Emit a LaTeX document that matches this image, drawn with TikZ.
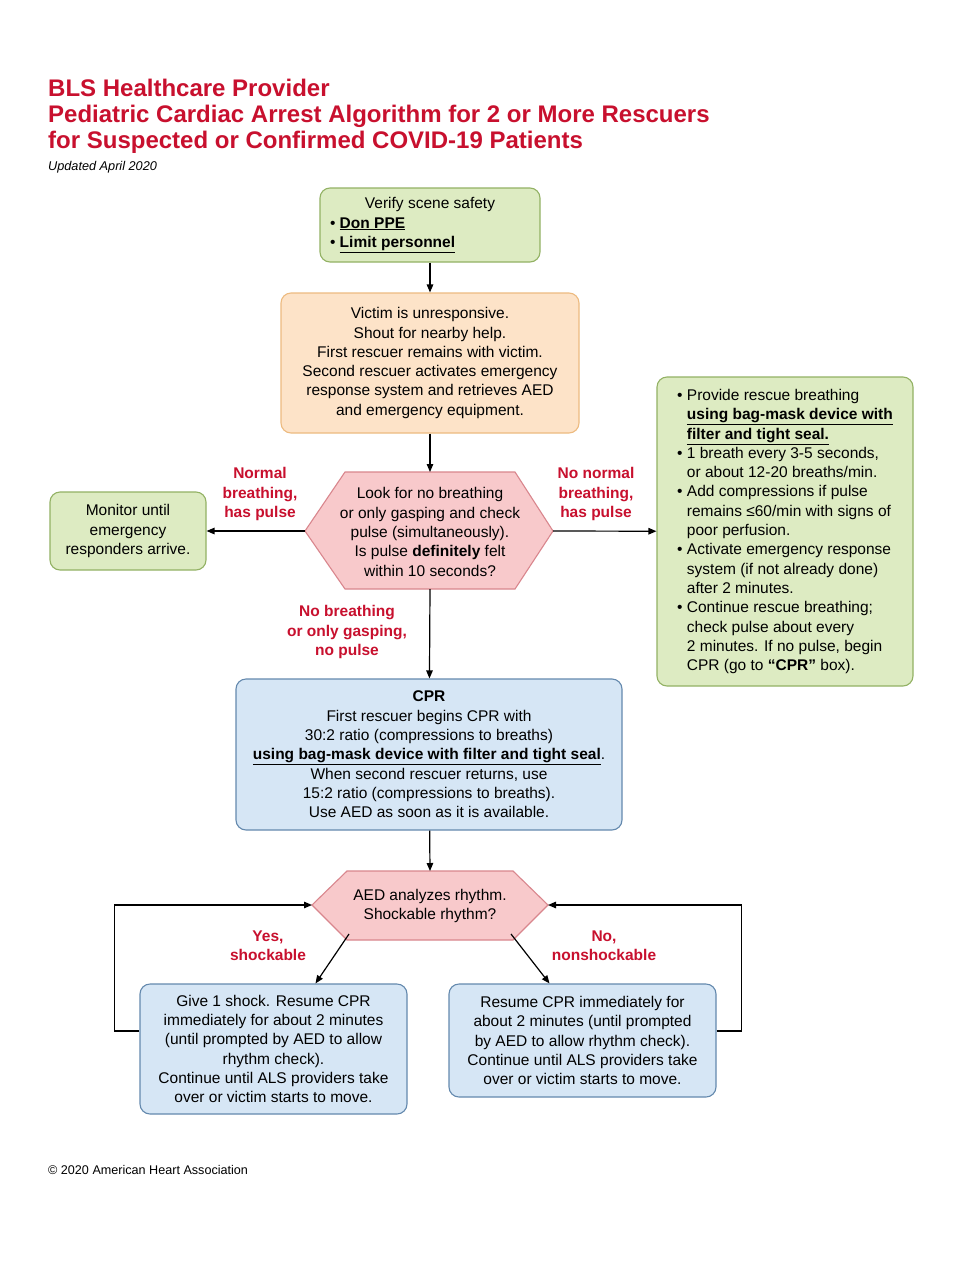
\documentclass[tikz,border=0pt]{standalone}
\usepackage{fontspec}
\setmainfont{Liberation Sans}
\newfontfamily\titlefont{Liberation Sans}
\usetikzlibrary{arrows.meta}
\definecolor{ttred}{HTML}{C8102E}
\definecolor{gfill}{HTML}{DDEBC2}
\definecolor{gline}{HTML}{93B264}
\definecolor{ofill}{HTML}{FDE3C8}
\definecolor{oline}{HTML}{EDBB80}
\definecolor{pfill}{HTML}{F8C9CB}
\definecolor{pline}{HTML}{D9868D}
\definecolor{bfill}{HTML}{D6E6F5}
\definecolor{bline}{HTML}{6489AE}
\newcommand{\bxfont}{\fontsize{15.5}{19.3}\selectfont}
\newcommand{\ind}{\hphantom{• }}
\begin{document}
\begin{tikzpicture}[x=1pt,y=-1pt,
  box/.style={draw, rounded corners=10pt, line width=1.1pt, align=center, font=\bxfont, inner sep=0pt},
  gbox/.style={box, draw=gline, fill=gfill},
  obox/.style={box, draw=oline, fill=ofill},
  bbox/.style={box, draw=bline, fill=bfill},
  hexa/.style={draw=pline, fill=pfill, line width=1.1pt, line join=miter},
  htext/.style={align=center, font=\bxfont, inner sep=0pt},
  lbl/.style={text=ttred, font=\bxfont\bfseries, align=center, inner sep=0pt},
  arr/.style={-{Triangle[length=8pt,width=6.5pt]}, line width=1.2pt},
  ttl/.style={anchor=base west, text=ttred, font=\titlefont\fontsize{24}{26}\selectfont\bfseries, inner sep=0pt}
]
\useasboundingbox[fill=white] (0,0) rectangle (966,1280);

% title
\node[ttl] (t1) at (48,96) {BLS Healthcare Provider};
\node[ttl] (t2) at (48,122) {Pediatric Cardiac Arrest Algorithm for 2 or More Rescuers};
\node[ttl] (t3) at (48,148) {for Suspected or Confirmed COVID-19 Patients};
\node[anchor=base west, inner sep=0pt, font=\fontsize{12.7}{13}\selectfont\itshape] (upd) at (48,170) {Updated April 2020};

% boxes
\node[gbox, minimum width=220pt, minimum height=74pt] (safety) at (430,225)
  {Verify scene safety\\
   \makebox[200pt][l]{• \underline{\textbf{Don PPE}}}\\
   \makebox[200pt][l]{• \underline{\textbf{Limit personnel}}}};

\node[obox, minimum width=298pt, minimum height=140pt] (victim) at (430,363)
  {Victim is unresponsive.\\Shout for nearby help.\\First rescuer remains with victim.\\Second rescuer activates emergency\\response system and retrieves AED\\and emergency equipment.};

% hexagon 1
\coordinate (h1L) at (305,531);
\coordinate (h1R) at (553,531);
\coordinate (h1T) at (430,472);
\coordinate (h1B) at (430,589);
\draw[hexa] (h1L) -- (345,472) -- (515,472) -- (h1R) -- (515,589) -- (345,589) -- cycle;
\node[htext] (look) at (430,532)
  {Look for no breathing\\or only gasping and check\\pulse (simultaneously).\\Is pulse \textbf{definitely} felt\\within 10 seconds?};

\node[gbox, minimum width=156pt, minimum height=78pt] (monitor) at (128,531)
  {Monitor until\\emergency\\responders arrive.};

\node[gbox, minimum width=256pt, minimum height=309pt, align=left] (rescue) at (785,531.5)
  {• Provide rescue breathing\\
   \ind\underline{\textbf{using bag-mask device with}}\\
   \ind\underline{\textbf{filter and tight seal.}}\\
   • 1 breath every 3-5 seconds,\\
   \ind or about 12-20 breaths/min.\\
   • Add compressions if pulse\\
   \ind remains ≤60/min with signs of\\
   \ind poor perfusion.\\
   • Activate emergency response\\
   \ind system (if not already done)\\
   \ind after 2 minutes.\\
   • Continue rescue breathing;\\
   \ind check pulse about every\\
   \ind 2 minutes. If no pulse, begin\\
   \ind CPR (go to \textbf{“CPR”} box).};

\node[bbox, minimum width=386pt, minimum height=151pt] (cpr) at (429,754.5)
  {\textbf{CPR}\\First rescuer begins CPR with\\30:2 ratio (compressions to breaths)\\\underline{\textbf{using bag-mask device with filter and tight seal}}.\\When second rescuer returns, use\\15:2 ratio (compressions to breaths).\\Use AED as soon as it is available.};

% hexagon 2
\coordinate (h2L) at (312,905);
\coordinate (h2R) at (548,905);
\coordinate (h2T) at (430,871);
\coordinate (h2BL) at (349,934);
\coordinate (h2BR) at (511,934);
\draw[hexa] (h2L) -- (347,871) -- (513,871) -- (h2R) -- (513,940) -- (347,940) -- cycle;
\node[htext] (aed) at (430,906) {AED analyzes rhythm.\\Shockable rhythm?};

\node[bbox, minimum width=267pt, minimum height=130pt] (shock) at (273.5,1049)
  {Give 1 shock. Resume CPR\\immediately for about 2 minutes\\(until prompted by AED to allow\\rhythm check).\\Continue until ALS providers take\\over or victim starts to move.};

\node[bbox, minimum width=267pt, minimum height=113pt] (resume) at (582.5,1040.5)
  {Resume CPR immediately for\\about 2 minutes (until prompted\\by AED to allow rhythm check).\\Continue until ALS providers take\\over or victim starts to move.};

% labels
\node[lbl] (l1) at (260,494) {Normal\\breathing,\\has pulse};
\node[lbl] (l2) at (596,494) {No normal\\breathing,\\has pulse};
\node[lbl] (l3) at (347,632) {No breathing\\or only gasping,\\no pulse};
\node[lbl] (l4) at (268,946) {Yes,\\shockable};
\node[lbl] (l5) at (604,946) {No,\\nonshockable};

% connectors
\draw[arr] (safety) -- (victim);
\draw[arr] (victim) -- (h1T);
\draw[arr] (h1L) -- (monitor);
\draw[arr] (h1R) -- (rescue);
\draw[arr] (h1B) -- (cpr);
\draw[arr] (cpr) -- (h2T);
\draw[arr] (h2BL) -- ([xshift=42pt]shock.north);
\draw[arr] (h2BR) -- ([xshift=-33pt]resume.north);
\draw[arr] ([yshift=18pt]shock.west) -- ++(-25,0) |- (h2L);
\draw[arr] ([yshift=9.5pt]resume.east) -- ++(25,0) |- (h2R);

% footer
\node[anchor=base west, inner sep=0pt, font=\fontsize{12.6}{13}\selectfont] (copy) at (48,1174) {© 2020 American Heart Association};
\end{tikzpicture}
\end{document}
